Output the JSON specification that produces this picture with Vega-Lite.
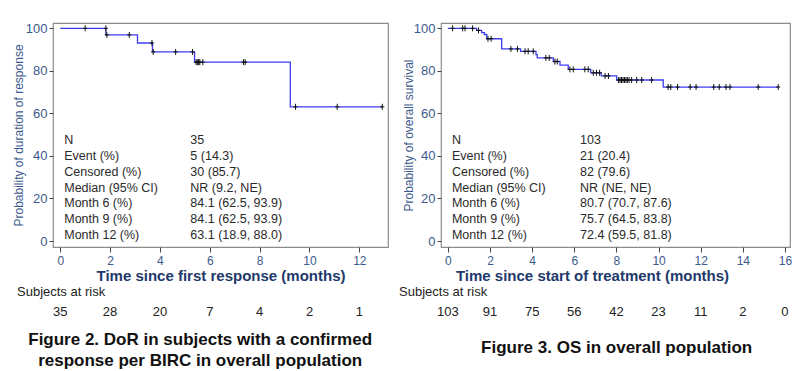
{
  "$schema": "https://vega.github.io/schema/vega-lite/v6.json",
  "padding": {"left": 11, "top": 21, "right": 5, "bottom": 5},
  "background": "white",
  "config": {
    "font": "Liberation Sans",
    "view": {"stroke": "#8c8c8c", "strokeWidth": 1.2},
    "axis": {"grid": false, "domain": false, "tickColor": "#444", "labelColor": "#3d5a8c", "labelFont": "Liberation Sans", "titleFont": "Liberation Sans", "labelFlush": false}
  },
  "datasets": {
    "dorCurve": [
      {"t": 0, "s": 100}, {"t": 1.83, "s": 96.9}, {"t": 3.10, "s": 93.1}, {"t": 3.70, "s": 88.9},
      {"t": 5.39, "s": 84.1}, {"t": 9.23, "s": 63.1}, {"t": 12.92, "s": 63.1}
    ],
    "dorCensor": [
      {"t": 1.0, "s": 100}, {"t": 1.83, "s": 100}, {"t": 1.87, "s": 96.9}, {"t": 2.77, "s": 96.9},
      {"t": 3.68, "s": 93.1}, {"t": 3.73, "s": 88.9}, {"t": 4.63, "s": 88.9}, {"t": 5.31, "s": 88.9},
      {"t": 5.45, "s": 84.1}, {"t": 5.5, "s": 84.1}, {"t": 5.55, "s": 84.1}, {"t": 5.6, "s": 84.1},
      {"t": 5.72, "s": 84.1}, {"t": 7.35, "s": 84.1}, {"t": 7.42, "s": 84.1},
      {"t": 9.44, "s": 63.1}, {"t": 11.11, "s": 63.1}, {"t": 12.92, "s": 63.1}
    ],
    "dorStats": [
      {"row": 0, "label": "N", "value": "35"},
      {"row": 1, "label": "Event (%)", "value": "5 (14.3)"},
      {"row": 2, "label": "Censored (%)", "value": "30 (85.7)"},
      {"row": 3, "label": "Median (95% CI)", "value": "NR (9.2, NE)"},
      {"row": 4, "label": "Month 6 (%)", "value": "84.1 (62.5, 93.9)"},
      {"row": 5, "label": "Month 9 (%)", "value": "84.1 (62.5, 93.9)"},
      {"row": 6, "label": "Month 12 (%)", "value": "63.1 (18.9, 88.0)"}
    ],
    "dorRisk": [
      {"t": 0, "n": "35"}, {"t": 2, "n": "28"}, {"t": 4, "n": "20"}, {"t": 6, "n": "7"},
      {"t": 8, "n": "4"}, {"t": 10, "n": "2"}, {"t": 12, "n": "1"}
    ],
    "osCurve": [
      {"t": 0, "s": 100}, {"t": 1.36, "s": 99.0}, {"t": 1.60, "s": 98.0}, {"t": 1.73, "s": 97.1},
      {"t": 1.84, "s": 95.1}, {"t": 2.55, "s": 90.3}, {"t": 3.45, "s": 89.2}, {"t": 4.18, "s": 87.6},
      {"t": 4.24, "s": 86.1}, {"t": 5.0, "s": 84.4}, {"t": 5.32, "s": 82.7}, {"t": 5.71, "s": 80.7},
      {"t": 6.78, "s": 79.1}, {"t": 7.28, "s": 77.6}, {"t": 8.01, "s": 75.7}, {"t": 10.22, "s": 72.4},
      {"t": 15.68, "s": 72.4}
    ],
    "osCensor": [
      {"t": 0.22, "s": 100}, {"t": 0.70, "s": 100}, {"t": 0.81, "s": 100}, {"t": 1.17, "s": 100},
      {"t": 1.45, "s": 99.0}, {"t": 1.90, "s": 95.1}, {"t": 2.05, "s": 95.1},
      {"t": 2.99, "s": 90.3}, {"t": 3.30, "s": 90.3},
      {"t": 3.66, "s": 89.2}, {"t": 3.81, "s": 89.2}, {"t": 4.05, "s": 89.2},
      {"t": 4.65, "s": 86.1}, {"t": 4.81, "s": 86.1}, {"t": 5.08, "s": 84.4}, {"t": 5.19, "s": 84.4},
      {"t": 5.79, "s": 80.7}, {"t": 5.95, "s": 80.7}, {"t": 6.5, "s": 80.7}, {"t": 6.66, "s": 80.7},
      {"t": 6.9, "s": 79.1}, {"t": 7.05, "s": 79.1}, {"t": 7.2, "s": 79.1},
      {"t": 7.46, "s": 77.6}, {"t": 7.62, "s": 77.6},
      {"t": 8.1, "s": 75.7}, {"t": 8.17, "s": 75.7}, {"t": 8.24, "s": 75.7}, {"t": 8.31, "s": 75.7},
      {"t": 8.38, "s": 75.7}, {"t": 8.45, "s": 75.7}, {"t": 8.52, "s": 75.7}, {"t": 8.6, "s": 75.7},
      {"t": 8.72, "s": 75.7}, {"t": 8.96, "s": 75.7}, {"t": 9.2, "s": 75.7}, {"t": 9.67, "s": 75.7},
      {"t": 10.45, "s": 72.4}, {"t": 10.58, "s": 72.4}, {"t": 10.9, "s": 72.4}, {"t": 11.5, "s": 72.4},
      {"t": 11.78, "s": 72.4}, {"t": 12.62, "s": 72.4}, {"t": 12.88, "s": 72.4}, {"t": 13.2, "s": 72.4},
      {"t": 13.39, "s": 72.4}, {"t": 14.73, "s": 72.4}, {"t": 15.68, "s": 72.4}
    ],
    "osStats": [
      {"row": 0, "label": "N", "value": "103"},
      {"row": 1, "label": "Event (%)", "value": "21 (20.4)"},
      {"row": 2, "label": "Censored (%)", "value": "82 (79.6)"},
      {"row": 3, "label": "Median (95% CI)", "value": "NR (NE, NE)"},
      {"row": 4, "label": "Month 6 (%)", "value": "80.7 (70.7, 87.6)"},
      {"row": 5, "label": "Month 9 (%)", "value": "75.7 (64.5, 83.8)"},
      {"row": 6, "label": "Month 12 (%)", "value": "72.4 (59.5, 81.8)"}
    ],
    "osRisk": [
      {"t": 0, "n": "103"}, {"t": 2, "n": "91"}, {"t": 4, "n": "75"}, {"t": 6, "n": "56"},
      {"t": 8, "n": "42"}, {"t": 10, "n": "23"}, {"t": 12, "n": "11"}, {"t": 14, "n": "2"}, {"t": 16, "n": "0"}
    ]
  },
  "hconcat": [
    {
      "vconcat": [
        {
          "width": 335,
          "height": 224,
          "layer": [
            {
              "layer": [
                {
                  "data": {"name": "dorCurve"},
                  "mark": {"type": "line", "interpolate": "step-after", "color": "#3c3cf2", "strokeWidth": 1.3},
                  "encoding": {
                    "x": {"field": "t", "type": "quantitative",
                      "scale": {"domain": [-0.29, 13.15], "nice": false, "zero": false},
                      "axis": {"values": [0,1,2,3,4,5,6,7,8,9,10,11,12,13],
                        "labelExpr": "datum.value % 2 === 0 ? datum.label : ''",
                        "title": "Time since first response (months)",
                        "tickSize": 5, "labelFontSize": 12, "labelPadding": 3,
                        "titleFontSize": 15, "titleFontWeight": "bold", "titleColor": "#22386b", "titlePadding": 2}},
                    "y": {"field": "s", "type": "quantitative",
                      "scale": {"domain": [-2.8, 102.5], "nice": false, "zero": false},
                      "axis": {"values": [0, 20, 40, 60, 80, 100],
                        "title": "Probability of duration of response",
                        "tickSize": 4, "labelFontSize": 13, "labelPadding": 2,
                        "titleFontSize": 12, "titleFontWeight": "normal", "titleColor": "#3d5a8c", "titlePadding": 0}}
                  }
                },
                {
                  "data": {"name": "dorCensor"},
                  "mark": {"type": "point", "shape": "M0,-1V1M-0.7,0H0.7", "size": 36, "filled": false, "stroke": "#111", "strokeWidth": 1, "opacity": 1},
                  "encoding": {
                    "x": {"field": "t", "type": "quantitative"},
                    "y": {"field": "s", "type": "quantitative"}
                  }
                }
              ]
            },
            {
              "data": {"name": "dorStats"},
              "encoding": {
                "y": {"field": "row", "type": "quantitative",
                  "scale": {"domain": [-7.46, 6.78], "reverse": true, "nice": false, "zero": false}, "axis": null}
              },
              "layer": [
                {"mark": {"type": "text", "align": "left", "baseline": "middle", "fontSize": 12.5, "color": "#2a2a2a"},
                 "encoding": {"x": {"datum": 0.16, "type": "quantitative"}, "text": {"field": "label"}}},
                {"mark": {"type": "text", "align": "left", "baseline": "middle", "fontSize": 12.5, "color": "#2a2a2a"},
                 "encoding": {"x": {"datum": 5.22, "type": "quantitative"}, "text": {"field": "value"}}}
              ]
            }
          ],
          "resolve": {"scale": {"y": "independent"}}
        },
        {
          "width": 335,
          "height": 22,
          "view": {"stroke": null},
          "data": {"name": "dorRisk"},
          "title": {"text": "Subjects at risk", "anchor": "start", "dx": -36, "fontSize": 13, "fontWeight": "normal", "color": "#222", "offset": 2},
          "mark": {"type": "text", "fontSize": 13, "color": "#222", "baseline": "middle"},
          "encoding": {
            "x": {"field": "t", "type": "quantitative", "scale": {"domain": [-0.29, 13.15], "nice": false, "zero": false}, "axis": null},
            "text": {"field": "n"}
          }
        }
      ],
      "spacing": 2,
      "title": {"text": ["Figure 2. DoR in subjects with a confirmed", "response per BIRC in overall population"],
        "orient": "bottom", "anchor": "middle", "frame": "bounds", "fontSize": 17, "fontWeight": "bold", "color": "#111", "offset": 9, "lineHeight": 21}
    },
    {
      "vconcat": [
        {
          "width": 349,
          "height": 224,
          "layer": [
            {
              "layer": [
                {
                  "data": {"name": "osCurve"},
                  "mark": {"type": "line", "interpolate": "step-after", "color": "#3c3cf2", "strokeWidth": 1.3},
                  "encoding": {
                    "x": {"field": "t", "type": "quantitative",
                      "scale": {"domain": [-0.33, 16.24], "nice": false, "zero": false},
                      "axis": {"values": [0,1,2,3,4,5,6,7,8,9,10,11,12,13,14,15,16],
                        "labelExpr": "datum.value % 2 === 0 ? datum.label : ''",
                        "title": "Time since start of treatment (months)",
                        "tickSize": 5, "labelFontSize": 12, "labelPadding": 3,
                        "titleFontSize": 15, "titleFontWeight": "bold", "titleColor": "#22386b", "titlePadding": 2,
                        "titleX": 151, "titleAlign": "center"}},
                    "y": {"field": "s", "type": "quantitative",
                      "scale": {"domain": [-2.8, 102.5], "nice": false, "zero": false},
                      "axis": {"values": [0, 20, 40, 60, 80, 100],
                        "title": "Probability of overall survival",
                        "tickSize": 4, "labelFontSize": 13, "labelPadding": 2,
                        "titleFontSize": 12, "titleFontWeight": "normal", "titleColor": "#3d5a8c", "titlePadding": -2}}
                  }
                },
                {
                  "data": {"name": "osCensor"},
                  "mark": {"type": "point", "shape": "M0,-1V1M-0.7,0H0.7", "size": 36, "filled": false, "stroke": "#111", "strokeWidth": 1, "opacity": 1},
                  "encoding": {
                    "x": {"field": "t", "type": "quantitative"},
                    "y": {"field": "s", "type": "quantitative"}
                  }
                }
              ]
            },
            {
              "data": {"name": "osStats"},
              "encoding": {
                "y": {"field": "row", "type": "quantitative",
                  "scale": {"domain": [-7.46, 6.78], "reverse": true, "nice": false, "zero": false}, "axis": null}
              },
              "layer": [
                {"mark": {"type": "text", "align": "left", "baseline": "middle", "fontSize": 12.5, "color": "#2a2a2a"},
                 "encoding": {"x": {"datum": 0.19, "type": "quantitative"}, "text": {"field": "label"}}},
                {"mark": {"type": "text", "align": "left", "baseline": "middle", "fontSize": 12.5, "color": "#2a2a2a"},
                 "encoding": {"x": {"datum": 6.27, "type": "quantitative"}, "text": {"field": "value"}}}
              ]
            }
          ],
          "resolve": {"scale": {"y": "independent"}}
        },
        {
          "width": 349,
          "height": 22,
          "view": {"stroke": null},
          "data": {"name": "osRisk"},
          "title": {"text": "Subjects at risk", "anchor": "start", "dx": -38, "fontSize": 13, "fontWeight": "normal", "color": "#222", "offset": 2},
          "mark": {"type": "text", "fontSize": 13, "color": "#222", "baseline": "middle"},
          "encoding": {
            "x": {"field": "t", "type": "quantitative", "scale": {"domain": [-0.33, 16.24], "nice": false, "zero": false}, "axis": null},
            "text": {"field": "n"}
          }
        }
      ],
      "spacing": 2,
      "title": {"text": "Figure 3. OS in overall population",
        "orient": "bottom", "anchor": "middle", "frame": "bounds", "dx": 21, "fontSize": 17, "fontWeight": "bold", "color": "#111", "offset": 17}
    }
  ],
  "spacing": 10,
  "align": "none"
}
